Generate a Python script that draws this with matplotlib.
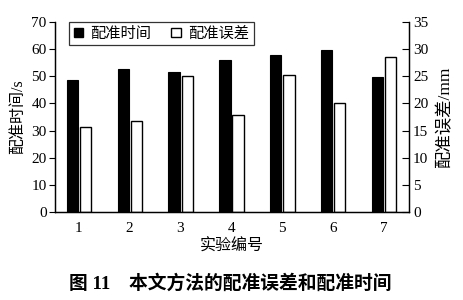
import matplotlib
matplotlib.use("Agg")
import matplotlib.pyplot as plt
import numpy as np
from matplotlib.patches import Patch

plt.rcParams['font.family'] = ['Liberation Serif', 'Noto Sans CJK SC', 'DejaVu Sans']

experiments = ['1', '2', '3', '4', '5', '6', '7']
reg_time = [48.6, 52.7, 51.7, 55.9, 57.8, 59.8, 49.9]      # s
reg_error = [15.6, 16.8, 25.1, 17.9, 25.2, 20.1, 28.6]     # mm
left_ticks = [0, 10, 20, 30, 40, 50, 60, 70]
right_ticks = [0, 5, 10, 15, 20, 25, 30, 35]

fig = plt.figure(figsize=(4.64, 3.0), dpi=100)
ax = fig.add_axes([55/464, 1-212/300, (409-55)/464, (212-22)/300])
ax2 = ax.twinx()

x = np.arange(1, len(experiments) + 1)
w = 0.225
ax.bar(x - 0.125, reg_time, width=w, color='black', edgecolor='black', linewidth=0.8)
ax2.bar(x + 0.135, reg_error, width=w, color='white', edgecolor='black', linewidth=1.0)

ax.set_xlim(0.53, 7.5)
ax.set_ylim(0, 70)
ax2.set_ylim(0, 35)
ax.set_xticks(x)
ax.set_xticklabels(experiments)
ax.set_yticks(left_ticks)
ax2.set_yticks(right_ticks)

for a in (ax, ax2):
    a.spines['top'].set_visible(False)
    for s in a.spines.values():
        s.set_linewidth(0.9)
ax.tick_params(axis='x', length=0, labelsize=11, pad=7)
ax.tick_params(axis='y', direction='out', length=4, width=0.8, labelsize=11, pad=2)
ax2.tick_params(axis='y', direction='in', length=5, width=0.8, labelsize=11, pad=3)

ax.set_xlabel('实验编号', fontsize=11.5, labelpad=3)
ax.set_ylabel('配准时间/s', fontsize=11.5, labelpad=4)
ax2.set_ylabel('配准误差/mm', fontsize=12.5, labelpad=6)

handles = [Patch(facecolor='black', edgecolor='black'),
           Patch(facecolor='white', edgecolor='black', linewidth=1.0)]
leg = ax.legend(handles, ['配准时间', '配准误差'], ncol=2, loc='upper left',
                bbox_to_anchor=(0.04, 1.0), frameon=True, fancybox=False,
                edgecolor='black', fontsize=11, handlelength=0.6, handleheight=0.6,
                handletextpad=0.5, columnspacing=1.3, borderpad=0.3, borderaxespad=0.0)
leg.get_frame().set_linewidth(0.9)
leg.set_zorder(10)
ax.set_zorder(ax2.get_zorder() + 1)
ax.patch.set_visible(False)

fig.text(0.497, 1-283/300, '图 11　本文方法的配准误差和配准时间', ha='center', va='center',
         fontsize=13.5, fontweight='bold')

fig.savefig('out.png', dpi=100)
